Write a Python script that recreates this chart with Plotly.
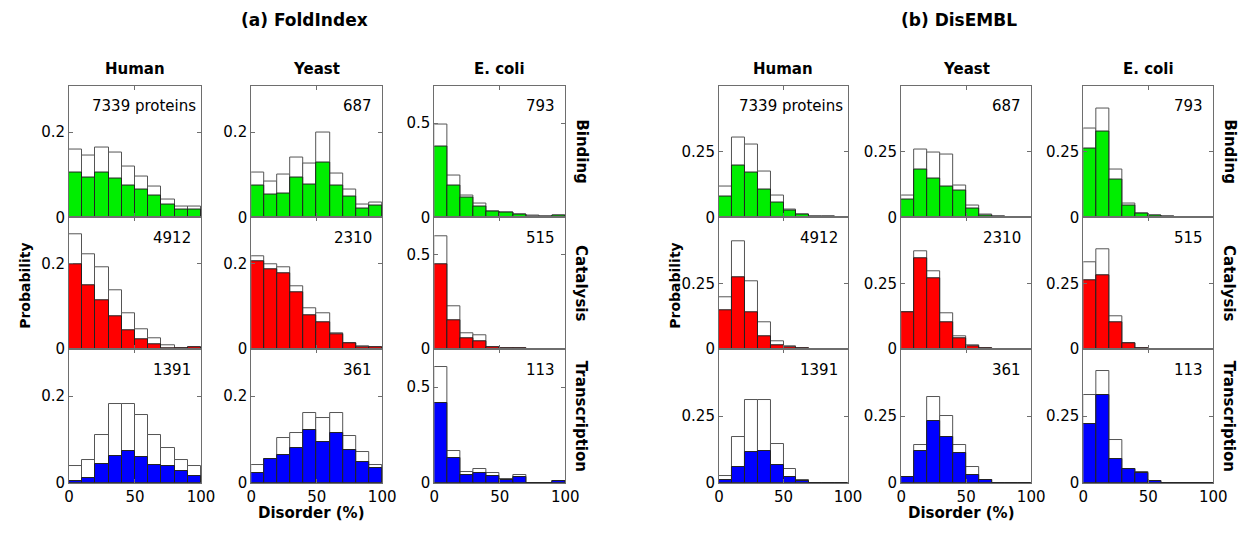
import plotly.graph_objects as go

# ---------------- data ----------------
bin_edges = list(range(0, 101, 10))
bin_centers = [(a + b) / 2 for a, b in zip(bin_edges[:-1], bin_edges[1:])]

# FoldIndex: "all" = white outline bars, "func" = coloured bars
fi_human_binding_all = [0.159, 0.146, 0.164, 0.152, 0.120, 0.096, 0.071, 0.041, 0.025, 0.025]
fi_human_binding_func = [0.106, 0.093, 0.104, 0.090, 0.075, 0.064, 0.051, 0.029, 0.018, 0.019]
fi_yeast_binding_all = [0.104, 0.085, 0.100, 0.140, 0.127, 0.198, 0.102, 0.066, 0.031, 0.035]
fi_yeast_binding_func = [0.074, 0.054, 0.056, 0.093, 0.077, 0.128, 0.075, 0.048, 0.021, 0.028]
fi_ecoli_binding_all = [0.491, 0.222, 0.118, 0.075, 0.031, 0.023, 0.014, 0.007, 0.003, 0.009]
fi_ecoli_binding_func = [0.375, 0.170, 0.104, 0.057, 0.031, 0.023, 0.014, 0.005, 0.002, 0.009]

fi_human_catalysis_all = [0.270, 0.222, 0.192, 0.137, 0.084, 0.047, 0.025, 0.008, 0.002, 0.004]
fi_human_catalysis_func = [0.198, 0.150, 0.115, 0.076, 0.043, 0.022, 0.011, 0.002, 0.001, 0.003]
fi_yeast_catalysis_all = [0.217, 0.198, 0.192, 0.148, 0.095, 0.083, 0.038, 0.014, 0.006, 0.005]
fi_yeast_catalysis_func = [0.205, 0.188, 0.177, 0.132, 0.080, 0.062, 0.034, 0.0125, 0.005, 0.004]
fi_ecoli_catalysis_all = [0.600, 0.226, 0.084, 0.072, 0.007, 0.0035, 0.0035, 0.0, 0.0, 0.0]
fi_ecoli_catalysis_func = [0.451, 0.154, 0.059, 0.042, 0.007, 0.0035, 0.0035, 0.0, 0.0, 0.0]

fi_human_transcription_all = [0.038, 0.052, 0.111, 0.183, 0.181, 0.156, 0.111, 0.080, 0.052, 0.038]
fi_human_transcription_func = [0.005, 0.010, 0.043, 0.061, 0.074, 0.059, 0.041, 0.039, 0.028, 0.016]
fi_yeast_transcription_all = [0.041, 0.055, 0.103, 0.115, 0.160, 0.149, 0.160, 0.107, 0.070, 0.041]
fi_yeast_transcription_func = [0.022, 0.055, 0.064, 0.080, 0.121, 0.095, 0.115, 0.076, 0.048, 0.034]
fi_ecoli_transcription_all = [0.604, 0.167, 0.057, 0.073, 0.050, 0.019, 0.038, 0.0, 0.0, 0.009]
fi_ecoli_transcription_func = [0.415, 0.127, 0.042, 0.050, 0.033, 0.016, 0.028, 0.0, 0.0, 0.009]

# DisEMBL
de_human_binding_all = [0.118, 0.302, 0.277, 0.173, 0.082, 0.031, 0.012, 0.004, 0.001, 0.0]
de_human_binding_func = [0.078, 0.197, 0.172, 0.107, 0.056, 0.025, 0.010, 0.0025, 0.001, 0.0]
de_yeast_binding_all = [0.082, 0.256, 0.248, 0.239, 0.119, 0.045, 0.010, 0.003, 0.0, 0.0]
de_yeast_binding_func = [0.066, 0.182, 0.149, 0.118, 0.101, 0.032, 0.008, 0.003, 0.0, 0.0]
de_ecoli_binding_all = [0.338, 0.413, 0.181, 0.054, 0.016, 0.006, 0.002, 0.0, 0.0, 0.0]
de_ecoli_binding_func = [0.261, 0.326, 0.143, 0.044, 0.016, 0.006, 0.002, 0.0, 0.0, 0.0]

de_human_catalysis_all = [0.196, 0.408, 0.256, 0.102, 0.031, 0.010, 0.0025, 0.0, 0.0, 0.0]
de_human_catalysis_func = [0.146, 0.271, 0.139, 0.049, 0.016, 0.0075, 0.002, 0.0, 0.0, 0.0]
de_yeast_catalysis_all = [0.138, 0.371, 0.295, 0.136, 0.048, 0.014, 0.003, 0.0, 0.0, 0.0]
de_yeast_catalysis_func = [0.138, 0.347, 0.268, 0.102, 0.041, 0.011, 0.003, 0.0, 0.0, 0.0]
de_ecoli_catalysis_all = [0.330, 0.380, 0.125, 0.022, 0.004, 0.0, 0.0, 0.0, 0.0, 0.0]
de_ecoli_catalysis_func = [0.260, 0.280, 0.100, 0.020, 0.004, 0.0, 0.0, 0.0, 0.0, 0.0]

de_human_transcription_all = [0.026, 0.170, 0.310, 0.310, 0.145, 0.050, 0.010, 0.0, 0.0, 0.0]
de_human_transcription_func = [0.010, 0.060, 0.115, 0.120, 0.065, 0.020, 0.005, 0.0, 0.0, 0.0]
de_yeast_transcription_all = [0.020, 0.140, 0.320, 0.250, 0.140, 0.060, 0.010, 0.0, 0.0, 0.0]
de_yeast_transcription_func = [0.020, 0.120, 0.230, 0.170, 0.110, 0.030, 0.010, 0.0, 0.0, 0.0]
de_ecoli_transcription_all = [0.330, 0.420, 0.160, 0.050, 0.040, 0.005, 0.0, 0.0, 0.0, 0.0]
de_ecoli_transcription_func = [0.220, 0.330, 0.090, 0.050, 0.035, 0.005, 0.0, 0.0, 0.0, 0.0]

protein_counts = {
    ("human", "binding"): "7339 proteins", ("yeast", "binding"): "687", ("ecoli", "binding"): "793",
    ("human", "catalysis"): "4912", ("yeast", "catalysis"): "2310", ("ecoli", "catalysis"): "515",
    ("human", "transcription"): "1391", ("yeast", "transcription"): "361", ("ecoli", "transcription"): "113",
}

methods = ["fi", "de"]
method_titles = ["(a) FoldIndex", "(b) DisEMBL"]
species = ["human", "yeast", "ecoli"]
species_labels = ["Human", "Yeast", "E. coli"]
functions = ["binding", "catalysis", "transcription"]
function_labels = ["Binding", "Catalysis", "Transcription"]
function_colors = ["#00ee00", "#ff0000", "#0000ff"]
x_ticks = [0, 50, 100]

data = globals()

# ---------------- layout geometry (pixels) ----------------
W, H = 1249, 535
col_px = {
    "fi": [(65, 199), (250, 383), (436, 569)],
    "de": [(725, 856), (910, 1042), (1095, 1227)],
}
row_px = [(87, 221), (221, 355), (355, 491)]

def px(x):
    return x / W

def py(y):
    return 1 - y / H

FONT = "DejaVu Sans, Liberation Sans, Arial, sans-serif"
AX_COLOR = "#6e6e6e"

fig = go.Figure()
layout = {}
annotations = []
n = 0
for m, mtitle in zip(methods, method_titles):
    for ci, sp in enumerate(species):
        for ri, fn in enumerate(functions):
            n += 1
            all_vals = data[f"{m}_{sp}_{fn}_all"]
            func_vals = data[f"{m}_{sp}_{fn}_func"]
            xa = f"x{n}"
            ya = f"y{n}"
            fig.add_trace(go.Bar(
                x=bin_centers, y=all_vals, width=10, xaxis=xa, yaxis=ya,
                marker=dict(color="white", line=dict(color="#555555", width=1)),
                showlegend=False, hoverinfo="skip"))
            fig.add_trace(go.Bar(
                x=bin_centers, y=func_vals, width=10, xaxis=xa, yaxis=ya,
                marker=dict(color=function_colors[ri], line=dict(color="#222222", width=1)),
                showlegend=False, hoverinfo="skip"))
            x0, x1 = col_px[m][ci]
            y0, y1 = row_px[ri]
            if m == "fi" and sp != "ecoli":
                ymax, ytv = 0.309, [0, 0.2]
                ytt = ["0", "0.2"]
            elif m == "fi":
                ymax, ytv = 0.70, [0, 0.5]
                ytt = ["0", "0.5"]
            else:
                ymax, ytv = 0.501, [0, 0.25]
                ytt = ["0", "0.25"]
            sfx = "" if n == 1 else str(n)
            layout["xaxis" + sfx] = dict(
                domain=[px(x0), px(x1)], anchor=ya, range=[0, 100],
                tickvals=x_ticks, ticktext=[str(t) for t in x_ticks],
                showticklabels=(ri == 2), ticks="inside", ticklen=4,
                tickcolor=AX_COLOR, showline=True, linecolor=AX_COLOR, linewidth=1,
                mirror="ticks", showgrid=False, zeroline=False,
                tickfont=dict(family=FONT, size=15, color="black"))
            layout["yaxis" + sfx] = dict(
                domain=[py(y1), py(y0)], anchor=xa, range=[0, ymax],
                tickvals=ytv, ticktext=ytt, ticks="inside", ticklen=4,
                tickcolor=AX_COLOR, showline=True, linecolor=AX_COLOR, linewidth=1,
                mirror="ticks", showgrid=False, zeroline=False,
                tickfont=dict(family=FONT, size=15, color="black"))
            txt = protein_counts[(sp, fn)]
            off = 3 if "proteins" in txt else 8
            annotations.append(dict(
                x=px(x1 - off), y=py(y0 + 21), xref="paper", yref="paper",
                text=txt, showarrow=False, xanchor="right", yanchor="middle",
                font=dict(family=FONT, size=15, color="black")))

# text labels
title_x = {"fi": 304, "de": 969}
for m, mtitle in zip(methods, method_titles):
    annotations.append(dict(x=px(title_x[m]), y=py(20), xref="paper", yref="paper",
                            text=f"<b>{mtitle}</b>", showarrow=False,
                            xanchor="center", yanchor="middle",
                            font=dict(family=FONT, size=17, color="black")))
    for ci, lab in enumerate(species_labels):
        x0, x1 = col_px[m][ci]
        annotations.append(dict(x=px((x0 + x1) / 2), y=py(70), xref="paper", yref="paper",
                                text=f"<b>{lab}</b>", showarrow=False,
                                xanchor="center", yanchor="middle",
                                font=dict(family=FONT, size=15, color="black")))
    rx = col_px[m][2][1] + 16
    for ri, lab in enumerate(function_labels):
        y0, y1 = row_px[ri]
        annotations.append(dict(x=px(rx), y=py((y0 + y1) / 2), xref="paper", yref="paper",
                                text=f"<b>{lab}</b>", showarrow=False, textangle=90,
                                xanchor="center", yanchor="middle",
                                font=dict(family=FONT, size=15, color="black")))
    lx = col_px[m][0][0] - 45
    annotations.append(dict(x=px(lx), y=py(290), xref="paper", yref="paper",
                            text="<b>Probability</b>", showarrow=False, textangle=-90,
                            xanchor="center", yanchor="middle",
                            font=dict(family=FONT, size=14, color="black")))
    x0, x1 = col_px[m][1]
    annotations.append(dict(x=px((x0 + x1) / 2 - 5), y=py(522), xref="paper", yref="paper",
                            text="<b>Disorder (%)</b>", showarrow=False,
                            xanchor="center", yanchor="middle",
                            font=dict(family=FONT, size=15, color="black")))

fig.update_layout(
    width=W, height=H, margin=dict(l=0, r=0, t=0, b=0),
    paper_bgcolor="white", plot_bgcolor="white",
    barmode="overlay", bargap=0, annotations=annotations, **layout)

fig.write_html("out.html")
